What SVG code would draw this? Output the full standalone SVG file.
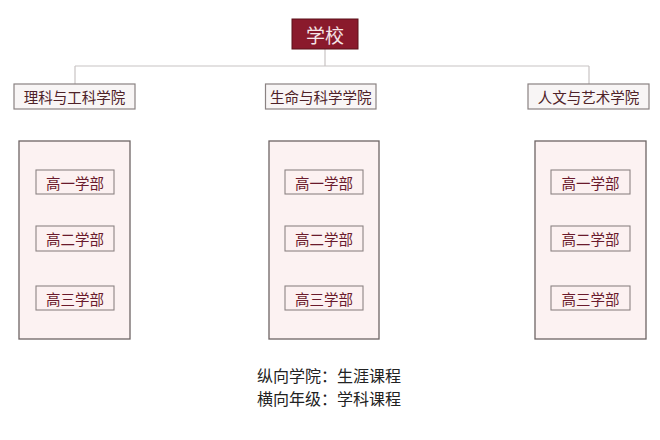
<svg xmlns="http://www.w3.org/2000/svg" width="660" height="440" viewBox="0 0 660 440">
<style>
text{font-family:"Noto Sans CJK SC","Noto Sans CJK TC",sans-serif;text-anchor:middle;dominant-baseline:central}
.root rect{fill:#8a1a2c;stroke:#5a1018;stroke-width:1}
.root text{fill:#f6e6e8;font-size:19px}
.col rect{fill:#f8f5f5;stroke:#8a8282;stroke-width:1.2}
.col text{fill:#4e2228;font-size:14.5px}
.pan{fill:#fcf2f2;stroke:#6e6464;stroke-width:1.3}
.gr rect{fill:#fcf1f1;stroke:#8c8484;stroke-width:1.1}
.gr text{fill:#6a1a2c;font-size:14.5px}
.conn{stroke:#c8c4c4;stroke-width:1.2;fill:none}
.note{fill:#222;font-size:16px;text-anchor:start;dominant-baseline:alphabetic}
</style>
<rect width="660" height="440" fill="#ffffff"/>
<g id="connectors">
<path class="conn" d="M325 49V66M75 66H589M75 66V84M589 66V84"/>
</g>
<g id="school" class="root"><rect x="292" y="19" width="66" height="30"/><text x="325" y="34">学校</text></g>
<g id="college1" class="col"><rect x="14" y="84" width="121" height="25"/><text x="74.5" y="96.5">理科与工科学院</text></g>
<g id="college2" class="col"><rect x="265.5" y="84" width="110.5" height="25"/><text x="320.7" y="96.5">生命与科学学院</text></g>
<g id="college3" class="col"><rect x="528" y="84" width="121" height="25"/><text x="588.5" y="96.5">人文与艺术学院</text></g>
<g id="panel1"><rect class="pan" x="19" y="141" width="111" height="198"/></g>
<g id="panel2"><rect class="pan" x="269" y="141" width="110" height="198"/></g>
<g id="panel3"><rect class="pan" x="535" y="141" width="111" height="198"/></g>
<g id="p1g1" class="gr"><rect x="36" y="170" width="78" height="24"/><text x="75" y="182">高一学部</text></g>
<g id="p1g2" class="gr"><rect x="36" y="226" width="78" height="25"/><text x="75" y="238.5">高二学部</text></g>
<g id="p1g3" class="gr"><rect x="36" y="286" width="78" height="24"/><text x="75" y="298">高三学部</text></g>
<g id="p2g1" class="gr"><rect x="285" y="170" width="78" height="24"/><text x="324" y="182">高一学部</text></g>
<g id="p2g2" class="gr"><rect x="285" y="226" width="78" height="25"/><text x="324" y="238.5">高二学部</text></g>
<g id="p2g3" class="gr"><rect x="285" y="286" width="78" height="24"/><text x="324" y="298">高三学部</text></g>
<g id="p3g1" class="gr"><rect x="551" y="170" width="79" height="24"/><text x="590.5" y="182">高一学部</text></g>
<g id="p3g2" class="gr"><rect x="551" y="226" width="79" height="25"/><text x="590.5" y="238.5">高二学部</text></g>
<g id="p3g3" class="gr"><rect x="551" y="286" width="79" height="24"/><text x="590.5" y="298">高三学部</text></g>
<g id="notes">
<text class="note" x="257" y="382">纵向学院：生涯课程</text>
<text class="note" x="257" y="405">横向年级：学科课程</text>
</g>
</svg>
